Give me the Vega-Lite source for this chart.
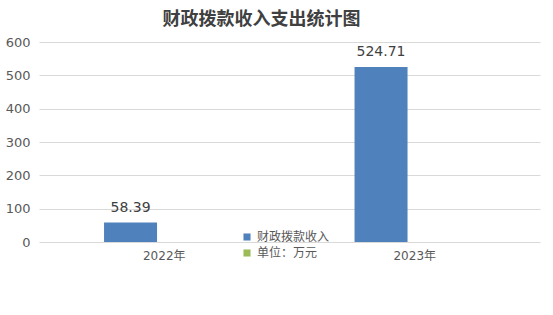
{
  "$schema": "https://vega.github.io/schema/vega-lite/v6.json",
  "width": 501,
  "height": 200,
  "autosize": {"type": "none"},
  "padding": {"left": 39, "top": 42, "right": 13, "bottom": 73},
  "background": "white",
  "config": {
    "view": {"stroke": null},
    "font": "DejaVu Sans, Noto Sans CJK SC"
  },
  "title": {
    "text": "财政拨款收入支出统计图",
    "fontSize": 18,
    "fontWeight": "bold",
    "color": "#404040",
    "font": "Noto Sans CJK SC",
    "anchor": "middle",
    "dx": -28,
    "offset": 7
  },
  "data": {
    "values": [
      {"year": "2022年", "series": "财政拨款收入", "value": 58.39},
      {"year": "2023年", "series": "财政拨款收入", "value": 524.71},
      {"year": "2022年", "series": "单位：万元", "value": null},
      {"year": "2023年", "series": "单位：万元", "value": null}
    ]
  },
  "encoding": {
    "x": {
      "field": "year",
      "type": "nominal",
      "scale": {"paddingInner": 0, "paddingOuter": 0},
      "axis": {
        "title": null,
        "labelAngle": 0,
        "domain": false,
        "ticks": false,
        "labelFontSize": 12,
        "labelColor": "#595959",
        "labelPadding": 8,
        "labelFont": "DejaVu Sans, Noto Sans CJK SC"
      }
    },
    "xOffset": {
      "field": "series",
      "type": "nominal",
      "sort": ["财政拨款收入", "单位：万元"],
      "scale": {"paddingInner": 0.195, "paddingOuter": 1, "align": 0.494}
    },
    "y": {
      "field": "value",
      "type": "quantitative",
      "scale": {"domain": [0, 600]},
      "axis": {
        "title": null,
        "values": [0, 100, 200, 300, 400, 500, 600],
        "labelOverlap": false,
        "domain": false,
        "ticks": false,
        "gridColor": "#d9d9d9",
        "gridWidth": 1,
        "labelFontSize": 13,
        "labelColor": "#595959",
        "labelPadding": 9
      }
    }
  },
  "layer": [
    {
      "mark": {"type": "bar"},
      "encoding": {
        "color": {
          "field": "series",
          "type": "nominal",
          "scale": {
            "domain": ["财政拨款收入", "单位：万元"],
            "range": ["#4F81BD", "#9BBB59"]
          },
          "legend": {
            "title": null,
            "orient": "none",
            "legendX": 202,
            "legendY": 189,
            "symbolType": "square",
            "symbolSize": 50,
            "symbolStrokeWidth": 0,
            "labelFontSize": 12,
            "labelColor": "#595959",
            "labelFont": "Noto Sans CJK SC",
            "rowPadding": 4,
            "labelOffset": 4
          }
        }
      }
    },
    {
      "transform": [{"filter": "datum.value != null"}],
      "mark": {"type": "text", "baseline": "middle", "dy": -15, "fontSize": 14, "color": "#404040"},
      "encoding": {
        "text": {"field": "value", "type": "quantitative", "format": ".2f"}
      }
    }
  ]
}
